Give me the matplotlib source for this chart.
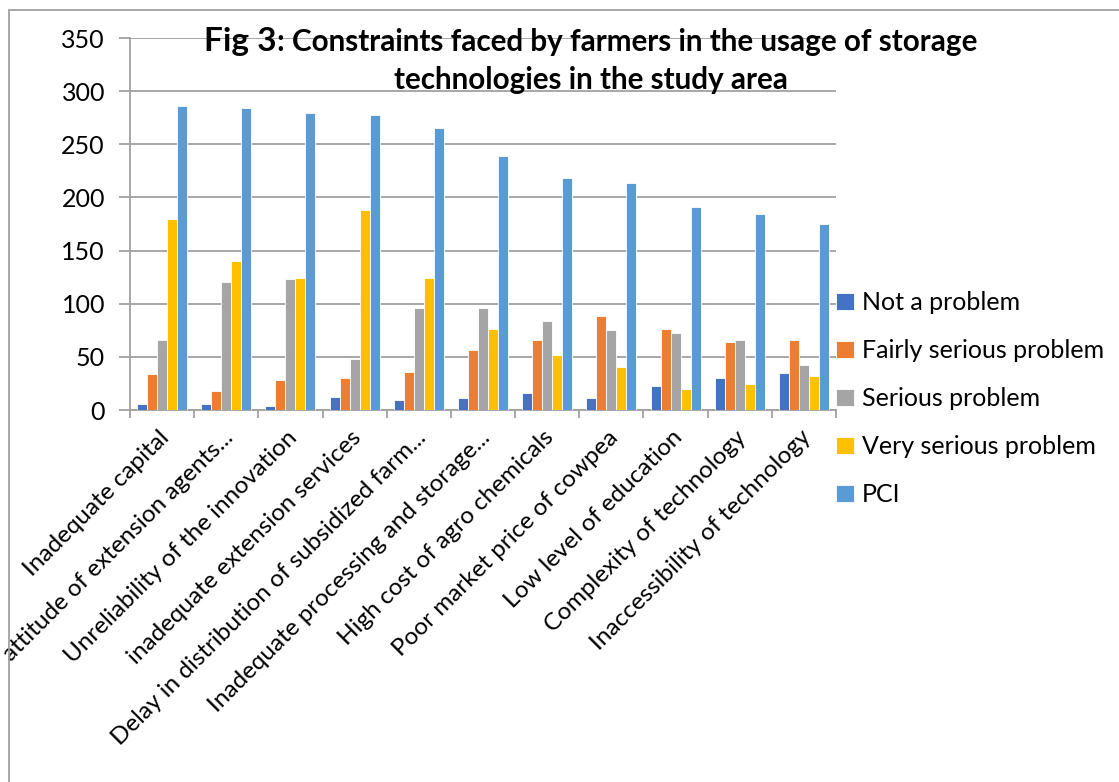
import numpy as np
import matplotlib
matplotlib.use('Agg')
import matplotlib.pyplot as plt
import matplotlib.transforms as mtransforms
from matplotlib.patches import Rectangle

plt.rcParams['font.family'] = ['Lato', 'DejaVu Sans']

# categories along the x axis
constraints = ['Inadequate capital',
               'attitude of extension agents...',
               'Unreliability of the innovation',
               'inadequate extension services',
               'Delay in distribution of subsidized farm...',
               'Inadequate processing and storage...',
               'High cost of agro chemicals',
               'Poor market price of cowpea',
               'Low level of education',
               'Complexity of technology',
               'Inaccessibility of technology']

# series values
not_a_problem = [6, 6, 4, 12, 9, 11, 16, 11, 23, 30, 35]
fairly_serious = [34, 18, 28, 30, 36, 56, 66, 88, 76, 64, 66]
serious = [66, 120, 123, 48, 96, 96, 84, 75, 72, 66, 42]
very_serious = [180, 140, 124, 188, 124, 76, 52, 40, 20, 24, 32]
pci = [286, 284, 279, 278, 265, 239, 218, 214, 191, 184, 175]

series_names = ['Not a problem', 'Fairly serious problem', 'Serious problem',
                'Very serious problem', 'PCI']
series_colors = ['#4472C4', '#ED7D31', '#A5A5A5', '#FFC000', '#5B9BD5']
y_ticks = [0, 50, 100, 150, 200, 250, 300, 350]

fig = plt.figure(figsize=(11.19, 7.82), dpi=100)
ax = fig.add_axes([130 / 1119, 1 - 410 / 782, 706 / 1119, 372 / 782])

x = np.arange(len(constraints))
w = 0.156
all_series = [not_a_problem, fairly_serious, serious, very_serious, pci]
for i, vals in enumerate(all_series):
    ax.bar(x + (i - 2) * w, vals, w, color=series_colors[i], label=series_names[i],
           edgecolor='white', linewidth=0.6, zorder=3)

ax.set_xlim(-0.5, len(constraints) - 0.5)
ax.set_ylim(0, 350)
ax.set_yticks(y_ticks)
ax.set_yticklabels([str(t) for t in y_ticks], fontsize=18)
ax.yaxis.grid(True, color='#a0a0a0', linewidth=1.3, zorder=0)
ax.tick_params(axis='y', length=8, color='#a0a0a0', width=1.3, pad=10)

ax.set_xticks(x)
ax.set_xticklabels(constraints, rotation=45, ha='right', va='top',
                   rotation_mode='anchor', fontsize=17.5)
ax.tick_params(axis='x', which='major', length=0, pad=12)
ax.set_xticks(np.arange(-0.5, len(constraints)), minor=True)
ax.tick_params(axis='x', which='minor', length=6, color='#a0a0a0', width=1.3)
# nudge the slanted labels a little to the left
shift = mtransforms.ScaledTranslation(-4 / 100, 0, fig.dpi_scale_trans)
for lbl in ax.get_xticklabels():
    lbl.set_transform(lbl.get_transform() + shift)

for s in ['top', 'right']:
    ax.spines[s].set_visible(False)
for s in ['left', 'bottom']:
    ax.spines[s].set_color('#a0a0a0')
    ax.spines[s].set_linewidth(1.3)

fig.legend(loc='center left', bbox_to_anchor=(836 / 1119, 1 - 399 / 782),
           frameon=False, fontsize=18, handlelength=0.7, handleheight=0.7,
           handletextpad=0.35, labelspacing=1.0, borderpad=0, borderaxespad=0)

# title, "Fig 3" a bit bigger
fig.text(277 / 1119, 1 - 42 / 782, 'Fig 3', fontsize=24, fontweight='bold',
         ha='right', va='center')
fig.text(277 / 1119, 1 - 42 / 782, ': Constraints faced by farmers in the usage of storage',
         fontsize=21.3, fontweight='bold', ha='left', va='center')
fig.text(591 / 1119, 1 - 80 / 782, 'technologies in the study area',
         fontsize=21.3, fontweight='bold', ha='center', va='center')

# outer chart frame
fig.add_artist(Rectangle((9 / 1119, -0.2), 1.5, 1.2 - 10 / 782, transform=fig.transFigure,
                         fill=False, edgecolor='#a0a0a0', linewidth=1.3))

fig.savefig('out.png', dpi=100)
